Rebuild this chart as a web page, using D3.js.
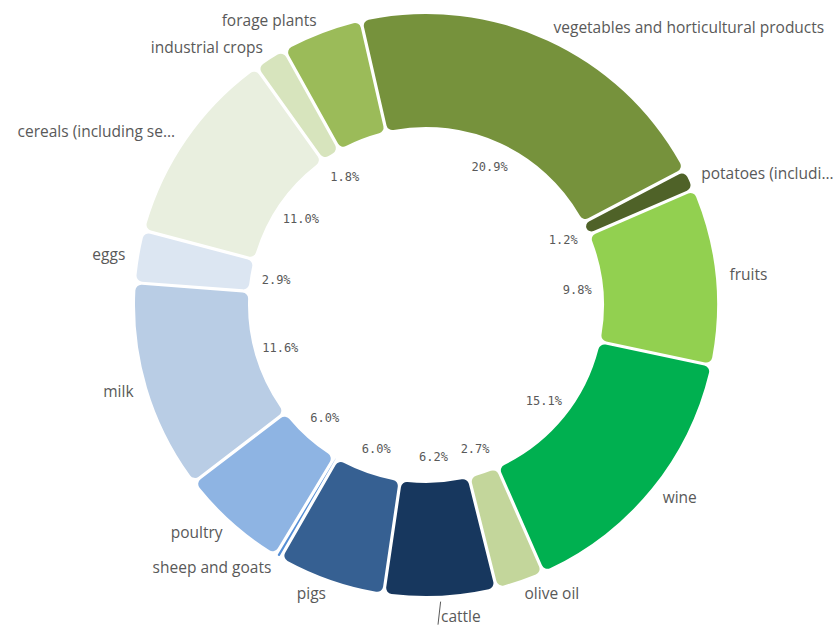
<!DOCTYPE html>
<html>
<head>
<meta charset="utf-8">
<script src="https://cdnjs.cloudflare.com/ajax/libs/d3/7.8.5/d3.min.js"></script>
<style>
  body { margin: 0; background: #fff; }
  svg { display: block; }
</style>
</head>
<body>
<script>
// categories, clockwise from the top
var categories = ["vegetables and horticultural products", "potatoes (includi…", "fruits", "wine",
  "olive oil", "cattle", "pigs", "sheep and goats", "poultry", "milk", "eggs",
  "cereals (including se…", "industrial crops", "forage plants"];
// share of total, %
var shares = [20.9, 1.2, 9.8, 15.1, 2.7, 6.2, 6.0, 0.3, 6.0, 11.6, 2.9, 11.0, 1.8, 4.5];
// percent labels shown inside the ring ("" = not shown)
var pctLabels = ["20.9%", "1.2%", "9.8%", "15.1%", "2.7%", "6.2%", "6.0%", "", "6.0%", "11.6%", "2.9%", "11.0%", "1.8%", ""];
var colors = ["#76923c", "#4f6228", "#92d050", "#00b050", "#c3d69b", "#17375e", "#366092",
  "#558ed5", "#8eb4e3", "#b9cde5", "#dce6f2", "#e9efdf", "#d7e4bd", "#9bbb59"];

var width = 840, height = 626;
var cx = 426, cy = 305;
var outerR = 291, innerR = 178, labelR = 305, pctR = 152;

var data = categories.map((c, i) => ({name: c, value: shares[i], pct: pctLabels[i], color: colors[i]}));

var svg = d3.select("body").append("svg")
    .attr("width", width)
    .attr("height", height);

var g = svg.append("g").attr("transform", `translate(${cx},${cy})`);

var start = -12.9 * Math.PI / 180;
var pie = d3.pie()
    .value(d => d.value)
    .sort(null)
    .startAngle(start)
    .endAngle(start + 2 * Math.PI);

var arcs = pie(data);

var arc = d3.arc()
    .innerRadius(innerR)
    .outerRadius(outerR)
    .cornerRadius(6)
    .padAngle(0.011)
    .padRadius(outerR);

g.selectAll("path.slice")
  .data(arcs)
  .join("path")
    .attr("class", "slice")
    .attr("d", arc)
    .attr("fill", d => d.data.color);

var mid = d => (d.startAngle + d.endAngle) / 2;

// percent labels inside the hole
g.selectAll("text.pct")
  .data(arcs.filter(d => d.data.pct))
  .join("text")
    .attr("class", "pct")
    .attr("x", d => pctR * Math.sin(mid(d)))
    .attr("y", d => -pctR * Math.cos(mid(d)))
    .attr("dy", "0.35em")
    .attr("text-anchor", "middle")
    .style("font-family", "'DejaVu Sans Mono', monospace")
    .style("font-size", "12px")
    .style("fill", "#595959")
    .text(d => d.data.pct);

// outside labels, pushed apart where they collide
var labels = arcs.map(d => {
  var a = mid(d);
  return {d: d, a: a, right: Math.sin(a) >= 0,
    x: labelR * Math.sin(a), y: -labelR * Math.cos(a), y0: -labelR * Math.cos(a)};
});
[true, false].forEach(side => {
  var list = labels.filter(l => l.right === side).sort((p, q) => p.y - q.y);
  for (var i = 1; i < list.length; i++) {
    if (list[i].y - list[i - 1].y < 23) list[i].y = list[i - 1].y + 23;
  }
});

// leader lines for moved labels
g.selectAll("line.leader")
  .data(labels.filter(l => Math.abs(l.y - l.y0) > 2))
  .join("line")
    .attr("class", "leader")
    .attr("x1", l => (outerR + 6) * Math.sin(l.a))
    .attr("y1", l => -(outerR + 6) * Math.cos(l.a))
    .attr("x2", l => l.x - 3)
    .attr("y2", l => l.y + 8)
    .attr("stroke", "#595959")
    .attr("stroke-width", 1);

g.selectAll("text.lbl")
  .data(labels)
  .join("text")
    .attr("class", "lbl")
    .attr("x", l => l.x)
    .attr("y", l => l.y)
    .attr("dy", "0.35em")
    .attr("text-anchor", l => l.right ? "start" : "end")
    .style("font-family", "'Open Sans', sans-serif")
    .style("font-size", "15.5px")
    .style("fill", "#595959")
    .text(l => l.d.data.name);
</script>
</body>
</html>
